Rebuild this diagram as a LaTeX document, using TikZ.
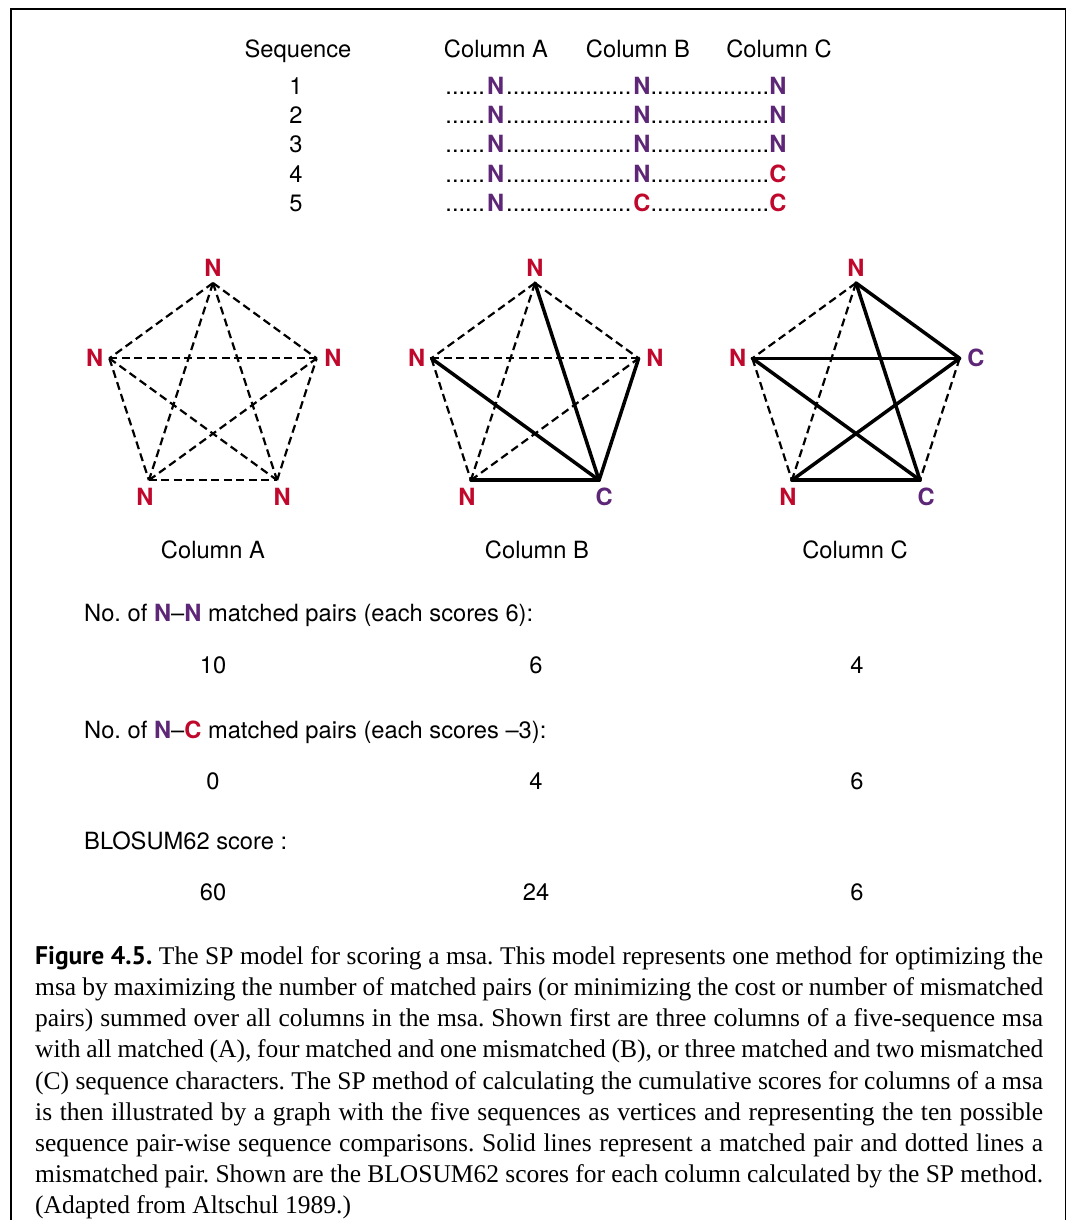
\documentclass[tikz,border=0pt]{standalone}
\usepackage{fontspec}
\setmainfont{Liberation Serif}
\setsansfont{TeX Gyre Heros}
\newfontfamily\figsans{PT Sans}
\usetikzlibrary{positioning}
\definecolor{nviolet}{RGB}{94,38,118}
\definecolor{cred}{RGB}{192,8,44}
\newcommand{\dotrun}[1]{\makebox[#1]{\cleaders\hbox{.}\hfill}}
\newcommand{\nres}{\textbf{\color{nviolet}N}}
\newcommand{\cres}{\textbf{\color{cred}C}}
\frenchspacing

\begin{document}
\begin{tikzpicture}[x=1pt, y=-1pt,
    every node/.style={font=\fontsize{23.7}{28}\sffamily, inner sep=0pt},
    mis/.style={dash pattern=on 8pt off 4.5pt, line width=2.2pt},
    mat/.style={line width=3.5pt, line cap=round},
    vlab/.style={font=\fontsize{23.7}{28}\sffamily\bfseries}]
\useasboundingbox (0,0) rectangle (1067,1220);
\draw[line width=1.4pt] (11,1220) -- (11,9) -- (1065.5,9) -- (1065.5,1220);

% the alignment
\node[anchor=base] (seqh) at (298,57.5) {Sequence};
\node[anchor=base] (colah) at (496,57.5) {Column A};
\node[anchor=base] (colbh) at (638,57.5) {Column B};
\node[anchor=base] (colch) at (779,57.5) {Column C};
\foreach \r/\y/\sb/\sc in {1/94.5/\nres/\nres, 2/123.5/\nres/\nres, 3/152.5/\nres/\nres,
    4/182.5/\nres/\cres, 5/211.5/\cres/\cres}
{
    \node[anchor=base] (num\r) at (296,\y) {\r};
    \node[anchor=base west] (row\r) at (443,\y) {\dotrun{44pt}\nres\dotrun{129pt}\sb\dotrun{119pt}\sc};
}

% the three graphs
\foreach \col/\cx in {a/213, b/535, c/856}
{
    \foreach \i/\ang in {1/-90, 2/-162, 3/126, 4/54, 5/-18}
        \coordinate (\col\i) at ([shift={(\ang:109)}]\cx,392);
}
\foreach \col in {a,b,c}
{
    \node[vlab, text=cred, above=6pt of \col1] (t\col1) {N};
    \node[vlab, text=cred, left=6pt of \col2] (t\col2) {N};
    \node[vlab, text=cred, below=8pt of \col3, xshift=-4pt] (t\col3) {N};
}
\node[vlab, text=cred, below=8pt of a4, xshift=5pt] (ta4) {N};
\node[vlab, text=cred, right=7.5pt of a5] (ta5) {N};
\node[vlab, text=nviolet, below=8pt of b4, xshift=5pt] (tb4) {C};
\node[vlab, text=cred, right=7.5pt of b5] (tb5) {N};
\node[vlab, text=nviolet, below=8pt of c4, xshift=6pt] (tc4) {C};
\node[vlab, text=nviolet, right=7.5pt of c5] (tc5) {C};

\foreach \i/\j in {1/2,1/3,1/4,1/5,2/3,2/4,2/5,3/4,3/5,4/5}
    \draw[mis] (a\i) -- (a\j);
\foreach \i/\j in {1/2,1/3,1/5,2/3,2/5,3/5}
    \draw[mis] (b\i) -- (b\j);
\foreach \i in {1,2,3,5}
    \draw[mat] (b\i) -- (b4);
\foreach \i/\j in {1/2,1/3,2/3,5/4}
    \draw[mis] (c\i) -- (c\j);
\foreach \i/\j in {1/5,1/4,2/5,2/4,3/5,3/4}
    \draw[mat] (c\i) -- (c\j);

\node[anchor=base] (capa) at (213,558.5) {Column A};
\node[anchor=base] (capb) at (537,558.5) {Column B};
\node[anchor=base] (capc) at (855,558.5) {Column C};

% pair counts and scores
\node[anchor=base west] (nnl) at (84,621.5) {No. of \nres\textendash\nres\ matched pairs (each scores 6):};
\foreach \v/\x [count=\k] in {10/213, 6/536, 4/857}
    \node[anchor=base] (nn\k) at (\x,673.5) {\v};
\node[anchor=base west] (ncl) at (84,738.5) {No. of \nres\textendash\cres\ matched pairs (each scores \textendash3):};
\foreach \v/\x [count=\k] in {0/213, 4/536, 6/857}
    \node[anchor=base] (nc\k) at (\x,789.5) {\v};
\node[anchor=base west] (bsl) at (84,849.5) {BLOSUM62 score :};
\foreach \v/\x [count=\k] in {60/213, 24/536, 6/857}
    \node[anchor=base] (bs\k) at (\x,900.5) {\v};

% caption
\node[anchor=north west, text width=1008pt, align=justify,
    font=\rmfamily\fontsize{25.5}{31.2}\selectfont] (caption) at (35,946)
{\hyphenpenalty=10000 {\figsans\bfseries Figure 4.5.} The SP model for scoring a msa. This model represents one method for optimizing the\linebreak
msa by maximizing the number of matched pairs (or minimizing the cost or number of mismatched\linebreak
pairs) summed over all columns in the msa. Shown first are three columns of a five-sequence msa\linebreak
with all matched (A), four matched and one mismatched (B), or three matched and two mismatched\linebreak
(C) sequence characters. The SP method of calculating the cumulative scores for columns of a msa\linebreak
is then illustrated by a graph with the five sequences as vertices and representing the ten possible\linebreak
sequence pair-wise sequence comparisons. Solid lines represent a matched pair and dotted lines a\linebreak
mismatched pair. Shown are the BLOSUM62 scores for each column calculated by the SP method.\linebreak
(Adapted from Altschul 1989.)};
\end{tikzpicture}
\end{document}
